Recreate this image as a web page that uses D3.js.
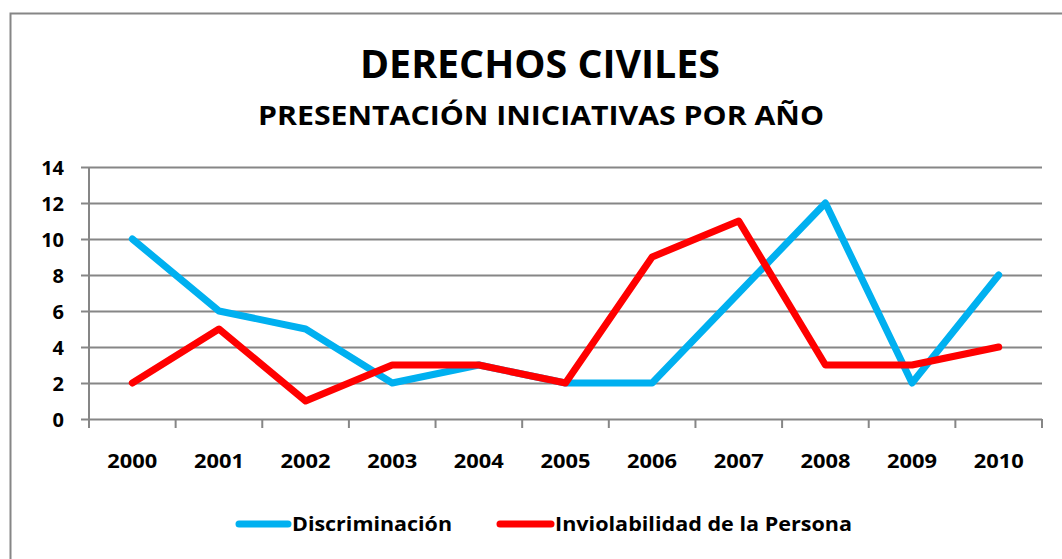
<!DOCTYPE html>
<html>
<head>
<meta charset="utf-8">
<script src="https://cdn.jsdelivr.net/npm/d3@7"></script>
<style>
  body { margin: 0; background: #fff; }
  text { font-family: "Open Sans", "Liberation Sans", Arial, sans-serif; font-weight: bold; fill: #000; }
</style>
</head>
<body>
<div id="chart"></div>
<script>
// Chart data
const years = ["2000", "2001", "2002", "2003", "2004", "2005", "2006", "2007", "2008", "2009", "2010"];
const discriminacion = [10, 6, 5, 2, 3, 2, 2, 7, 12, 2, 8];
const inviolabilidad = [2, 5, 1, 3, 3, 2, 9, 11, 3, 3, 4];
const yTicks = [0, 2, 4, 6, 8, 10, 12, 14];

const series = [
    { name: "Discriminación", values: discriminacion, color: "#00B0F0" },
    { name: "Inviolabilidad de la Persona", values: inviolabilidad, color: "#FF0000" }
];

const width = 1062;
const height = 559;
const plot = { left: 89, right: 1042, top: 167, bottom: 419 };
const gridColor = "#868686";
const font = "Open Sans, Liberation Sans, Arial, sans-serif";

const svg = d3.select("#chart").append("svg")
    .attr("width", width)
    .attr("height", height);

// Outer chart border
svg.append("rect")
    .attr("x", 10.5)
    .attr("y", 13.5)
    .attr("width", 1100)
    .attr("height", 600)
    .attr("fill", "none")
    .attr("stroke", gridColor)
    .attr("stroke-width", 2);

// Titles
svg.append("text")
    .attr("x", 540)
    .attr("y", 78)
    .attr("text-anchor", "middle")
    .attr("font-size", 39)
    .attr("textLength", 360)
    .attr("lengthAdjust", "spacingAndGlyphs")
    .text("DERECHOS CIVILES");

svg.append("text")
    .attr("x", 541)
    .attr("y", 125)
    .attr("text-anchor", "middle")
    .attr("font-size", 27)
    .attr("textLength", 566)
    .attr("lengthAdjust", "spacingAndGlyphs")
    .text("PRESENTACIÓN INICIATIVAS POR AÑO");

// Scales
const x = d3.scaleBand()
    .domain(years)
    .range([plot.left, plot.right]);

const y = d3.scaleLinear()
    .domain([0, 14])
    .range([plot.bottom, plot.top]);

// Y labels with short ticks
const yAxis = svg.append("g")
    .attr("transform", `translate(${plot.left},0)`)
    .call(d3.axisLeft(y).tickValues(yTicks).tickSize(8).tickPadding(17));

yAxis.select(".domain").remove();
yAxis.selectAll(".tick line").attr("stroke", gridColor).attr("stroke-width", 2);
yAxis.selectAll(".tick text")
    .attr("font-size", 20)
    .attr("dy", "0.36em")
    .style("font-family", font)
    .style("font-weight", "bold");

// Horizontal gridlines
svg.append("g")
    .selectAll("line")
    .data(yTicks)
    .enter()
    .append("line")
    .attr("x1", plot.left)
    .attr("x2", plot.right)
    .attr("y1", d => Math.round(y(d)) + 0.5)
    .attr("y2", d => Math.round(y(d)) + 0.5)
    .attr("stroke", gridColor)
    .attr("stroke-width", 2);

// Y axis line
svg.append("line")
    .attr("x1", plot.left)
    .attr("x2", plot.left)
    .attr("y1", plot.top)
    .attr("y2", plot.bottom)
    .attr("stroke", gridColor)
    .attr("stroke-width", 2);

// X axis ticks at category boundaries
const boundaries = years.map(d => x(d)).concat([plot.right]);
svg.append("g")
    .selectAll("line")
    .data(boundaries)
    .enter()
    .append("line")
    .attr("x1", d => d)
    .attr("x2", d => d)
    .attr("y1", plot.bottom)
    .attr("y2", plot.bottom + 9)
    .attr("stroke", gridColor)
    .attr("stroke-width", 2);

svg.append("g")
    .selectAll("text")
    .data(years)
    .enter()
    .append("text")
    .attr("x", d => x(d) + x.bandwidth() / 2)
    .attr("y", 468)
    .attr("text-anchor", "middle")
    .attr("font-size", 20)
    .attr("textLength", 50)
    .attr("lengthAdjust", "spacingAndGlyphs")
    .text(d => d);

// Lines
const line = d3.line()
    .x((d, i) => x(years[i]) + x.bandwidth() / 2)
    .y(d => y(d));

svg.append("g")
    .selectAll("path")
    .data(series)
    .enter()
    .append("path")
    .attr("d", d => line(d.values))
    .attr("fill", "none")
    .attr("stroke", d => d.color)
    .attr("stroke-width", 7)
    .attr("stroke-linecap", "round")
    .attr("stroke-linejoin", "round");

// Legend
const legendItems = [
    { x: 236, textX: 292, width: 160 },
    { x: 497, textX: 555, width: 297 }
];

const legend = svg.append("g")
    .selectAll("g")
    .data(series)
    .enter()
    .append("g");

legend.append("line")
    .attr("x1", (d, i) => legendItems[i].x + 3)
    .attr("x2", (d, i) => legendItems[i].textX - 4)
    .attr("y1", 524)
    .attr("y2", 524)
    .attr("stroke", d => d.color)
    .attr("stroke-width", 7)
    .attr("stroke-linecap", "round");

legend.append("text")
    .attr("x", (d, i) => legendItems[i].textX)
    .attr("y", 531)
    .attr("font-size", 20)
    .attr("textLength", (d, i) => legendItems[i].width)
    .attr("lengthAdjust", "spacingAndGlyphs")
    .text(d => d.name);
</script>
</body>
</html>
